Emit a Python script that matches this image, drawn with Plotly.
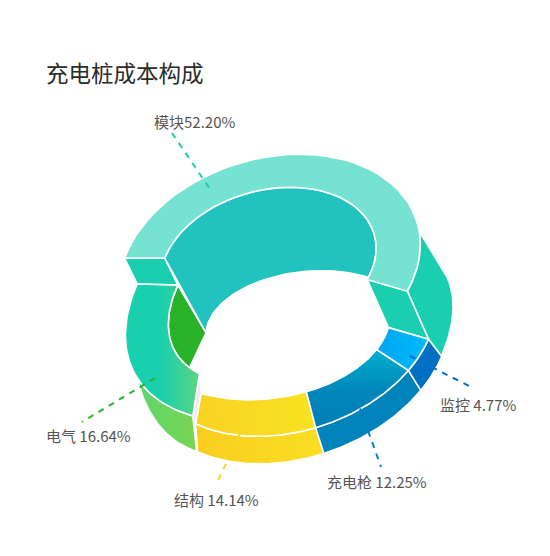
import numpy as np
import plotly.graph_objects as go

# --- chart values ---
names = ["模块", "监控", "充电枪", "结构", "电气"]
values = [52.20, 4.77, 12.25, 14.14, 16.64]
label_fmt = ["{}{:.2f}%", "{} {:.2f}%", "{} {:.2f}%", "{} {:.2f}%", "{} {:.2f}%"]
title = "充电桩成本构成"

START = 186.0  # where the first slice starts, degrees clockwise on screen

# ring curves: cx, ax, bx, cy, ay, by -> x = cx + ax cos t + bx sin t
module_outer = (269.5, 148.5, -26.3, 266.9, -2.9, 112.6)
module_inner = (268.5, 106.2, -18.2, 263.6, -2.5, 76.3)
floor = (309.9, 103.8, 6.9, 328.6, -10.2, 57.0)
rim_outer = (291.4, 144.5, -13.1, 328.5, -15.4, 106.7)
rim_inner = (267.2, 123.0, 8.0, 325.2, -15.6, 73.0)
foot_outer = (297.3, 151.9, -12.7, 348.0, -19.4, 114.2)
elec_outer = (382.1, 251.6, -50.8, 239.2, -63.2, 172.8)
elec_inner = (310.0, 136.8, -37.1, 269.1, -27.6, 109.2)
elec_foot = (487.8, 337.1, -114.6, -29.9, -229.9, 428.0)
module_wall = (108.7, 344.3, -7.3, 466.0, -156.0, 175.1)
FLOOR_END = 307.7


def pt(ring, deg):
    t = np.deg2rad(deg)
    cx, ax, bx, cy, ay, by = ring
    return cx + ax * np.cos(t) + bx * np.sin(t), cy + ay * np.cos(t) + by * np.sin(t)


def arc(ring, d0, d1, n=48):
    x, y = pt(ring, np.linspace(d0, d1, n))
    return list(x), list(y)


def join(*parts):
    xs, ys = [], []
    for px, py in parts:
        xs += list(px)
        ys += list(py)
    return xs + xs[:1], ys + ys[:1]


def dot(ring, deg):
    x, y = pt(ring, deg)
    return [x], [y]


edges = START + 3.6 * np.cumsum([0] + values)
m0, m1, g0, s0, e0, e1 = edges

fig = go.Figure()


def face(parts, color=None, grad=None, kind="horizontal", lw=1.6):
    x, y = join(*parts)
    kw = dict(fillcolor=color) if grad is None else dict(
        fillgradient=dict(type=kind, colorscale=grad))
    fig.add_trace(go.Scatter(x=x, y=y, mode="lines", fill="toself", hoverinfo="skip",
                             line=dict(color="white", width=lw), **kw))


# module outer wall and cut faces
face([arc(module_outer, 343, m1), dot(rim_outer, m1), dot(foot_outer, m1), arc(module_wall, m1, 348)], "#19CFB0")
face([dot(module_inner, m1), dot(module_outer, m1), dot(rim_outer, m1), dot(rim_inner, m1)], "#19CFB0")
face([dot(module_outer, m0), dot(module_inner, m0), dot(elec_inner, m0), dot(elec_outer, m0)], "#19CFB0")
# module inner wall + top
ix, iy = arc(module_inner, m0, m1)
face([(ix, iy), arc(floor, FLOOR_END, m0)], "#22C3BF")
ox, oy = arc(module_outer, m0, m1)
face([(ox, oy), (ix[::-1], iy[::-1])], "#76E2D1")
# electric
face([arc(elec_inner, m0, 133), dot(floor, m0)], "#27B228")
face([arc(elec_outer, e0, e0 + 25), arc(elec_foot, e0 + 25, e0)], grad=[[0, "#5FD46E"], [1, "#78D651"]])
face([dot(elec_inner, e0), dot(elec_outer, e0), dot(rim_outer, e0), dot(rim_inner, e0)], "#ECECF8", lw=0.8)
eox, eoy = arc(elec_outer, e0, e1)
eix, eiy = arc(elec_inner, e0, e1)
face([(eox, eoy), (eix[::-1], eiy[::-1])], grad=[[0, "#17D0B0"], [0.5, "#1BD0AC"], [1, "#5CD580"]])
# structure
face([arc(rim_outer, s0, e0), arc(foot_outer, e0, s0)], grad=[[0, "#F9CD1F"], [1, "#F9DF22"]])
face([arc(rim_inner, s0, e0), arc(rim_outer, e0, s0)], grad=[[0, "#FAD225"], [1, "#F7E320"]])
# charger gun
face([arc(rim_outer, g0, s0), arc(foot_outer, s0, g0)], "#0083BB")
face([arc(rim_inner, g0, s0), arc(rim_outer, s0, g0)],
     grad=[[0, "#007FB6"], [0.45, "#0085BA"], [1, "#00AFCE"]], kind="vertical")
# monitor
face([arc(rim_outer, m1, g0), arc(foot_outer, g0, m1)], "#0070C4")
face([arc(rim_inner, m1, g0), arc(rim_outer, g0, m1)], grad=[[0, "#00A5F0"], [1, "#00BBFF"]])

# leader lines and labels
leader_colors = ["#19CFB0", "#0070C4", "#0084BF", "#F9D522", "#27B228"]
leaders = [((172, 133), (212, 192)), ((410, 356), (473, 388)), ((356, 397), (381, 467)),
           ((246, 420), (217, 483)), ((155, 378), (82, 422))]
label_pos = [(194, 121), (478, 404), (377, 481), (216, 499), (88, 435)]

for (a, b), c in zip(leaders, leader_colors):
    fig.add_trace(go.Scatter(x=[a[0], b[0]], y=[a[1], b[1]], mode="lines", hoverinfo="skip",
                             line=dict(color=c, width=2, dash="6px,6px")))

for n, v, f, (lx, ly) in zip(names, values, label_fmt, label_pos):
    fig.add_annotation(x=lx, y=ly, text=f.format(n, v), showarrow=False,
                       font=dict(family="Noto Sans CJK SC", size=15, color="#555555"))

fig.add_annotation(x=44, y=72, text=title, showarrow=False, xanchor="left",
                   font=dict(family="Noto Sans CJK SC", size=22.5, color="#2b2b2b"))

# the page has an 8px body margin, so the plot is a bit smaller than the window
fig.update_layout(width=534, height=540, margin=dict(l=0, r=0, t=0, b=0), showlegend=False,
                  plot_bgcolor="white", paper_bgcolor="white",
                  xaxis=dict(range=[8, 542], visible=False),
                  yaxis=dict(range=[548, 8], visible=False))
fig.write_html("out.html")
